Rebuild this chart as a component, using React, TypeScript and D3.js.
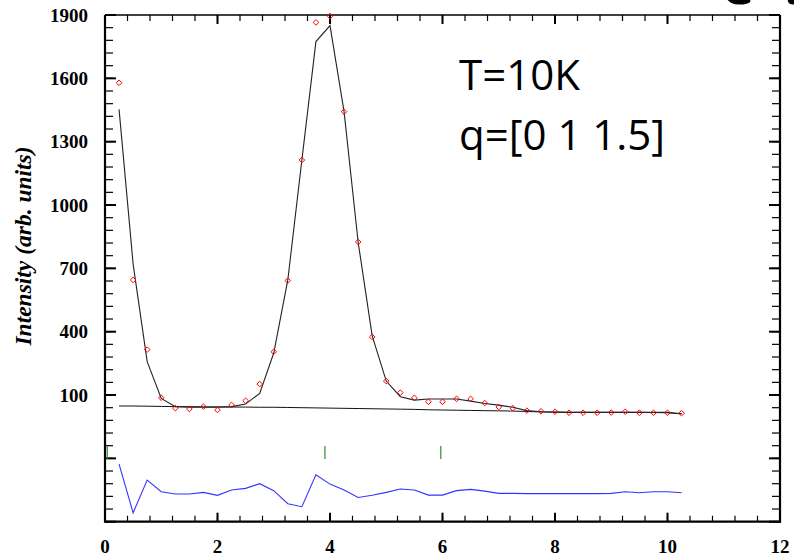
import React from "react";
import * as d3 from "d3";

const qValues = [0.25, 0.5, 0.75, 1.0, 1.25, 1.5, 1.75, 2.0, 2.25, 2.5, 2.75, 3.0, 3.25, 3.5, 3.75, 4.0, 4.25, 4.5, 4.75, 5.0, 5.25, 5.5, 5.75, 6.0, 6.25, 6.5, 6.75, 7.0, 7.25, 7.5, 7.75, 8.0, 8.25, 8.5, 8.75, 9.0, 9.25, 9.5, 9.75, 10.0, 10.25];
const observed = [1579, 645, 315, 87, 38, 34, 45, 29, 53, 73, 152, 305, 642, 1213, 1865, 1895, 1442, 825, 375, 166, 111, 87, 68, 68, 82, 82, 62, 43, 38, 26, 23, 21, 16, 16, 16, 17, 21, 16, 16, 16, 14];
const calculated = [1453, 720, 258, 84, 45, 42, 42, 42, 45, 57, 108, 299, 645, 1213, 1774, 1850, 1442, 825, 380, 166, 92, 76, 81, 81, 81, 71, 60, 52, 42, 26, 21, 19, 18, 18, 18, 18, 18, 18, 18, 18, 10];
const background = [48, 48, 47, 46, 45, 45, 44, 44, 43, 43, 42, 42, 41, 40, 39, 38, 37, 36, 35, 34, 33, 32, 30, 29, 28, 27, 26, 25, 24, 22, 20, 19, 18, 18, 18, 18, 18, 18, 17, 16, 12];
const difference = [133, -98, 57, 2, -9, -9, -1, -15, 10, 18, 40, 7, -55, -69, 82, 38, 10, -25, -15, -1, 15, 10, -14, -14, 7, 13, 5, -6, -6, -7, -7, -7, -7, -7, -7, -6, 2, -3, 2, 2, -3];
const diffOffset = -360;
const braggPositions = [0.04, 3.91, 5.97];
const braggLevel = -172;

const yLabelTicks = [1900, 1600, 1300, 1000, 700, 400, 100];
const yMajorTicks = [1900, 1600, 1300, 1000, 700, 400, 100, -200, -500];
const xLabelTicks = [0, 2, 4, 6, 8, 10, 12];

const W = 794;
const H = 556;
const L = 105, R = 780, T = 15, B = 521.7;

export default function App() {
  const x = d3.scaleLinear().domain([0, 12]).range([L, R]);
  const y = d3.scaleLinear().domain([-500, 1900]).range([B, T]);

  const yMinor = d3.range(-500, 1900.1, 60);
  const xMinor = d3.range(0, 12.01, 0.4);

  const lineGen = d3.line<number>().x((_, i) => x(qValues[i])).y((d) => y(d));
  const calcPath = lineGen(calculated) || "";
  const bgPath = lineGen(background) || "";
  const diffPath = lineGen(difference.map((d) => d + diffOffset)) || "";

  const serif = "'Liberation Serif', 'Times New Roman', serif";

  return (
    <svg width={W} height={H} style={{ position: "absolute", left: 0, top: 0, background: "#fff" }}>
      <rect x={0} y={0} width={W} height={H} fill="#fff" />
      {/* partial glyph top-right */}
      <text x={737} y={4} fontFamily="'Open Sans', sans-serif" fontSize={64} fontWeight={700} textAnchor="middle" fill="#000">c</text>
      <text x={784} y={4} fontFamily="'Open Sans', sans-serif" fontSize={64} fontWeight={700} fill="#000">.</text>

      {/* minor ticks */}
      {yMinor.map((v) => (
        <g key={"ym" + v}>
          <line x1={L} x2={L + 8} y1={y(v)} y2={y(v)} stroke="#000" strokeWidth={1.2} />
          <line x1={R} x2={R - 8} y1={y(v)} y2={y(v)} stroke="#000" strokeWidth={1.2} />
        </g>
      ))}
      {yMajorTicks.map((v) => (
        <g key={"yM" + v}>
          <line x1={L} x2={L + 11} y1={y(v)} y2={y(v)} stroke="#000" strokeWidth={2} />
          <line x1={R} x2={R - 11} y1={y(v)} y2={y(v)} stroke="#000" strokeWidth={2} />
        </g>
      ))}
      {xMinor.map((v) => (
        <g key={"xm" + v}>
          <line x1={x(v)} x2={x(v)} y1={B} y2={B - 6} stroke="#000" strokeWidth={1.2} />
          <line x1={x(v)} x2={x(v)} y1={T} y2={T + 6} stroke="#000" strokeWidth={1.2} />
        </g>
      ))}
      {xLabelTicks.map((v) => (
        <g key={"xM" + v}>
          <line x1={x(v)} x2={x(v)} y1={B} y2={B - 9} stroke="#000" strokeWidth={2} />
          <line x1={x(v)} x2={x(v)} y1={T} y2={T + 9} stroke="#000" strokeWidth={2} />
        </g>
      ))}

      {/* frame */}
      <line x1={L} x2={R} y1={T} y2={T} stroke="#000" strokeWidth={1.5} />
      <line x1={L} x2={R + 1} y1={B} y2={B} stroke="#000" strokeWidth={2.2} />
      <line x1={L} x2={L} y1={T} y2={B + 1} stroke="#000" strokeWidth={2.2} />
      <line x1={R} x2={R} y1={T} y2={B + 1} stroke="#000" strokeWidth={2.2} />

      {/* tick labels */}
      {yLabelTicks.map((v) => (
        <text key={"yl" + v} x={88} y={y(v)} dy="0.35em" textAnchor="end" fontFamily={serif} fontWeight={700} fontSize={19} fill="#000">{v}</text>
      ))}
      {xLabelTicks.map((v) => (
        <text key={"xl" + v} x={x(v)} y={553} textAnchor="middle" fontFamily={serif} fontWeight={700} fontSize={19} fill="#000">{v}</text>
      ))}
      <text transform="translate(31,246) rotate(-90)" textAnchor="middle" fontFamily={serif} fontWeight={700} fontStyle="italic" fontSize={23.5} fill="#000">Intensity (arb. units)</text>

      {/* curves */}
      <path d={bgPath} fill="none" stroke="#111" strokeWidth={1} />
      <path d={calcPath} fill="none" stroke="#222" strokeWidth={1.1} />
      <path d={diffPath} fill="none" stroke="#3333ff" strokeWidth={1.1} />

      {braggPositions.map((v) => (
        <line key={"b" + v} x1={x(v)} x2={x(v)} y1={y(braggLevel) - 6.5} y2={y(braggLevel) + 6.5} stroke="#2e8b2e" strokeWidth={1.2} />
      ))}

      {observed.map((v, i) => {
        const cx = x(qValues[i]);
        const cy = y(v);
        const r = 2.8;
        return (
          <path key={"o" + i} d={`M${cx},${cy - r}L${cx + r},${cy}L${cx},${cy + r}L${cx - r},${cy}Z`} fill="none" stroke="#ff0000" strokeWidth={1} />
        );
      })}

      <text x={459} y={90} fontFamily="'Open Sans', sans-serif" fontSize={42} fill="#000">T=10K</text>
      <text x={459} y={150} fontFamily="'Open Sans', sans-serif" fontSize={42} fill="#000">q=[0 1 1.5]</text>
    </svg>
  );
}
